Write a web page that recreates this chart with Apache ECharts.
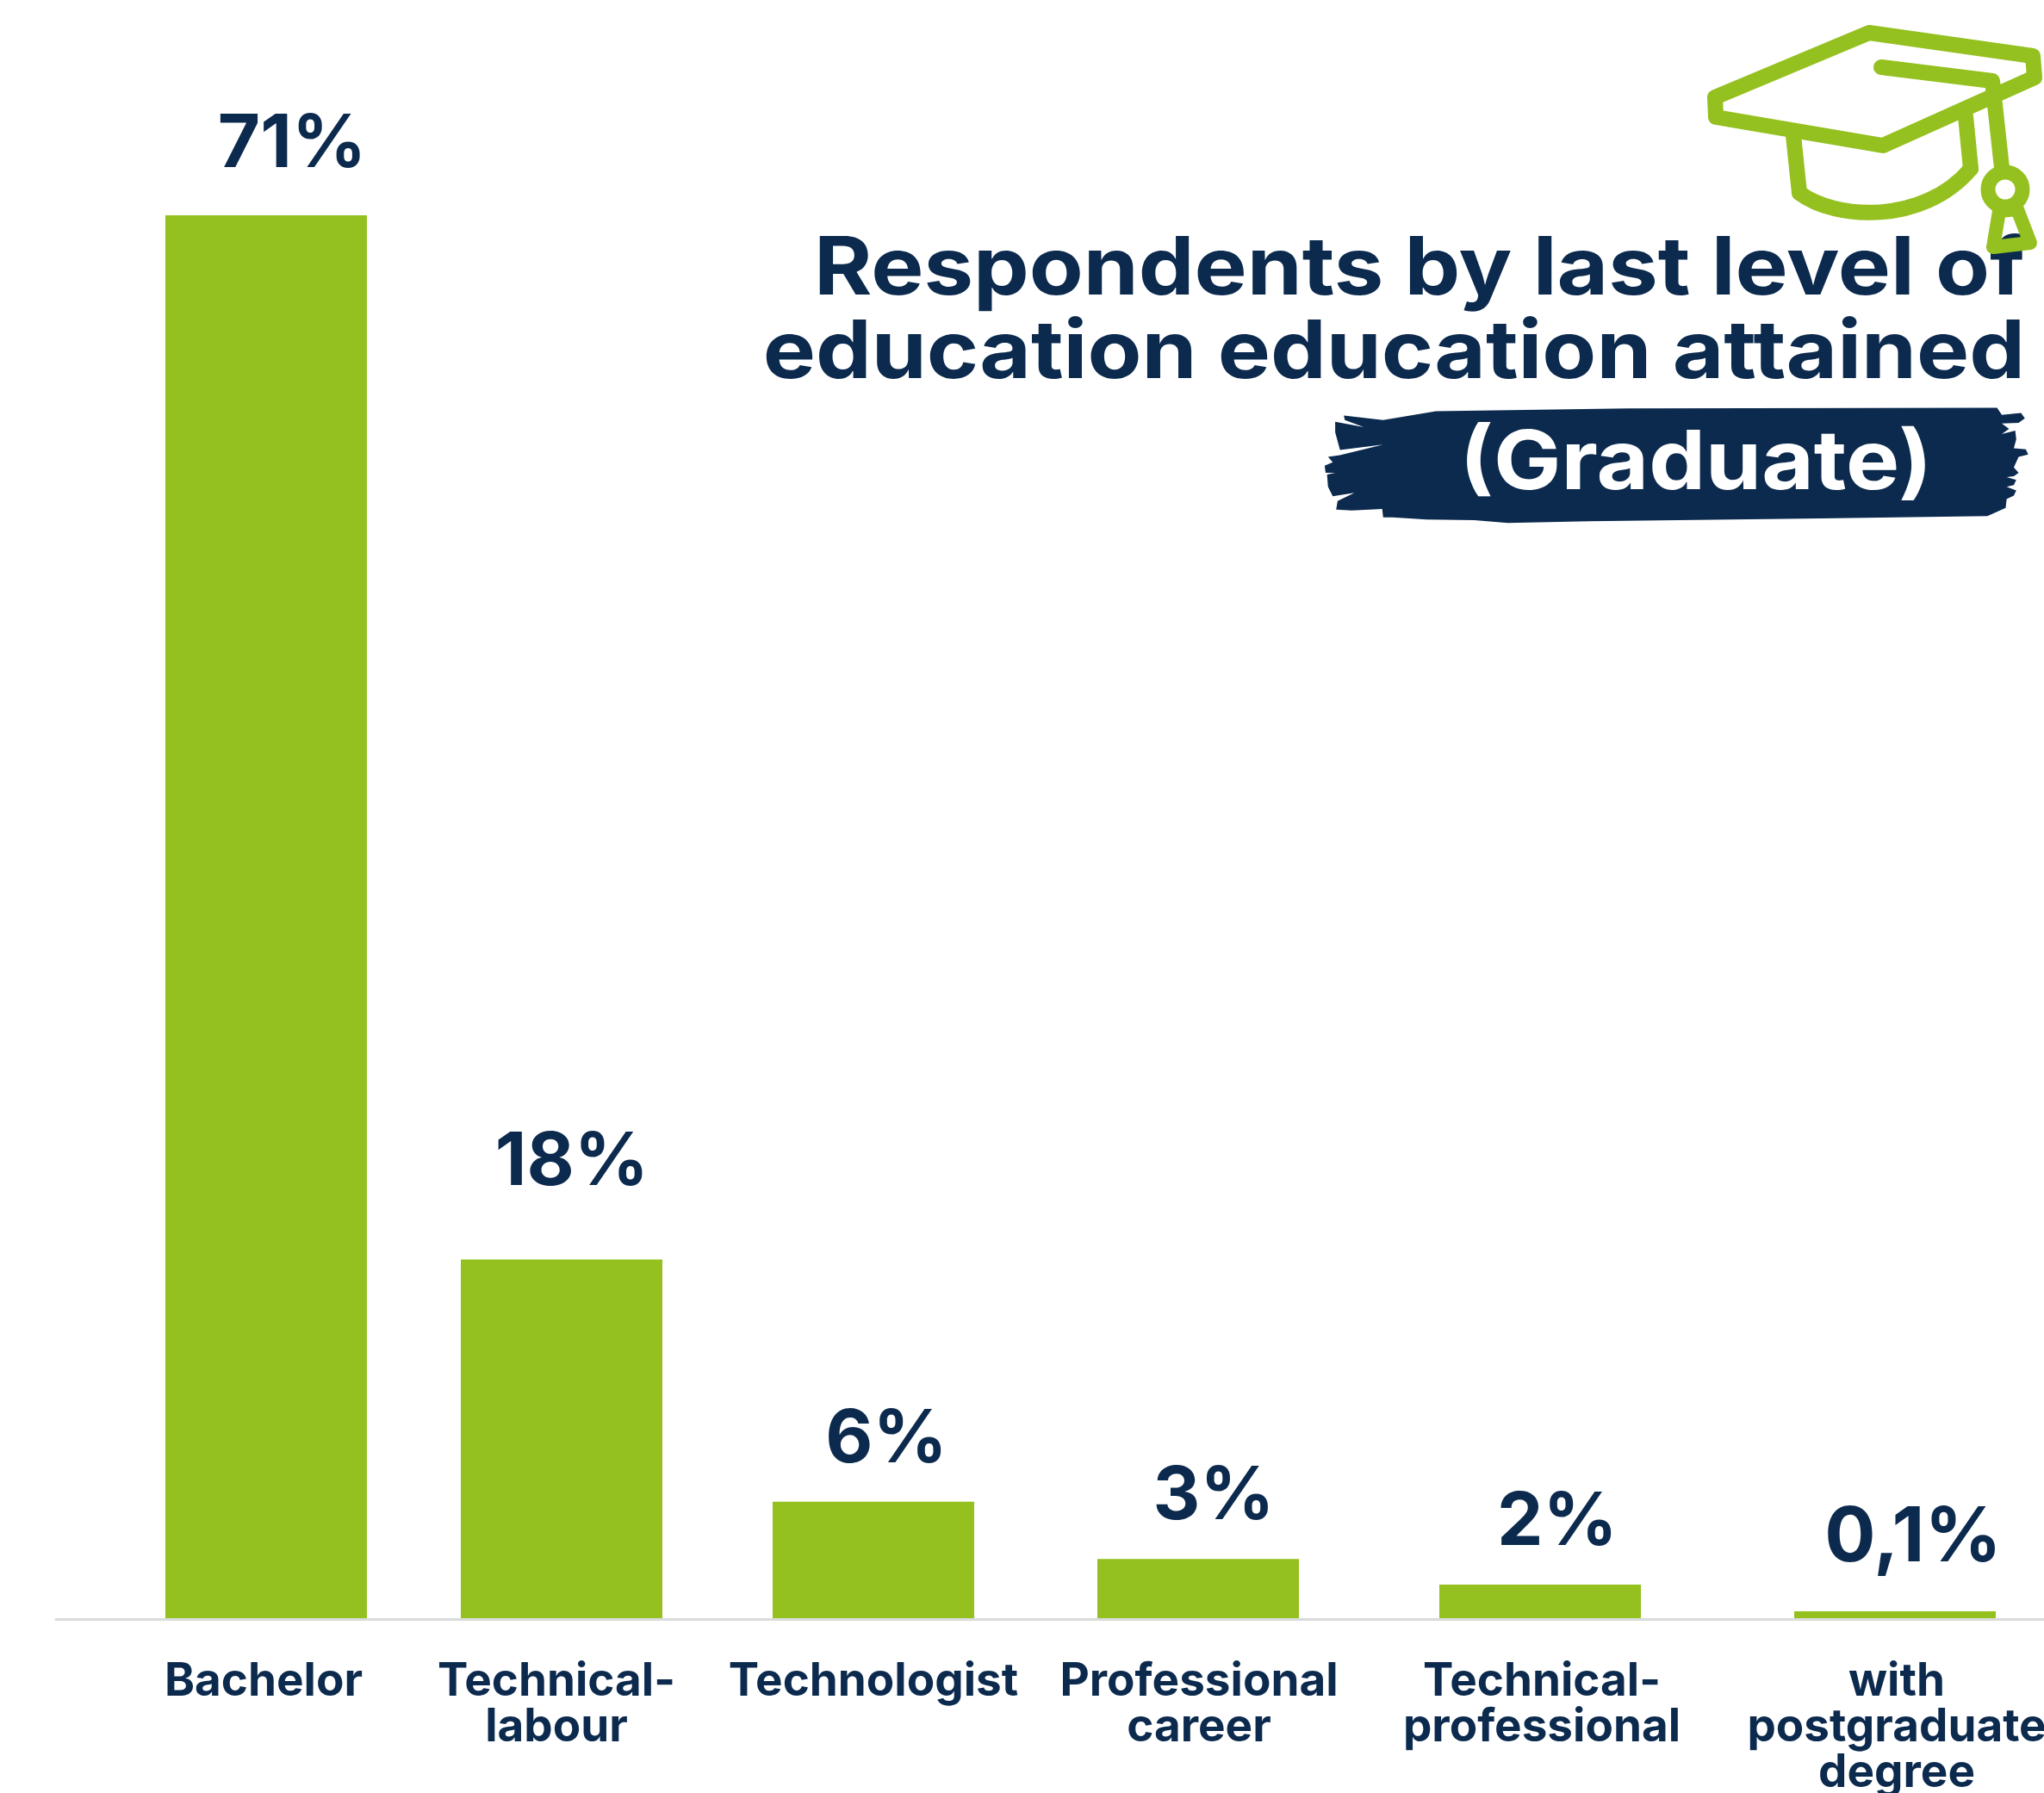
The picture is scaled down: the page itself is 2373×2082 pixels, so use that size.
<!DOCTYPE html>
<html><head><meta charset="utf-8">
<style>html,body{margin:0;padding:0;background:#fff}#c{width:2373px;height:2082px}</style>
<script src="https://cdn.jsdelivr.net/npm/echarts@6/dist/echarts.min.js"></script>
</head><body><div id="c"></div>
<script>
// data
const categories = ['Bachelor','Technical-\nlabour','Technologist','Professional\ncareer','Technical-\nprofessional','with\npostgraduate\ndegree'];
const barHeights = [71, 18.15, 5.9, 3, 1.7, 0.35];
const valueLabels = ['71%','18%','6%','3%','2%','0,1%'];
const titleLines = ['Respondents by last level of','education education attained'];
const badgeText = '(Graduate)';

// layout (page-like units on the x value axis)
const barCentres = [309,652,1014,1391,1788,2200];
const labelCentres = [306,646,1014,1392,1790,2202];
const valueLabelShift = [[30,-5],[12,-36],[15,5],[18,5],[20,5],[21,-6]];

const NAVY='#0c2a4e', GREEN='#94c11f', FONT='Inter';
const chart = echarts.init(document.getElementById('c'),null,{renderer:'canvas',width:2373,height:2082});

const fromCrop = p => [1500+p[0]/1.796, p[1]/2.45];
const brush = [[108,1182],[190,1195],[300,1170],[700,1162],[1470,1160],[1480,1180],[1520,1175],[1528,1190],[1515,1203],[1480,1205],[1495,1220],[1480,1235],[1508,1225],[1510,1250],[1505,1275],[1530,1278],[1535,1293],[1515,1300],[1505,1330],[1515,1345],[1505,1355],[1490,1357],[1510,1365],[1505,1380],[1490,1385],[1510,1395],[1505,1410],[1490,1420],[1488,1445],[1450,1468],[1100,1475],[620,1483],[450,1488],[380,1480],[280,1478],[210,1472],[190,1472],[188,1448],[125,1452],[92,1450],[95,1425],[130,1402],[85,1412],[75,1385],[73,1350],[90,1345],[70,1345],[68,1325],[85,1315],[75,1300],[100,1295],[190,1265],[100,1280],[90,1230],[90,1200],[150,1215],[110,1195]].map(fromCrop);
const capStroke = {stroke:GREEN,fill:'none',lineWidth:18,lineJoin:'round',lineCap:'round'};
const headText = (t,x,y,align,fill,size,sx) => ({type:'text',z:11,x,y,scaleX:sx,style:{x:0,y:0,text:t,textAlign:align,textVerticalAlign:'top',fill,font:`700 ${size}px ${FONT}`}});

chart.setOption({
  animation:false,
  backgroundColor:'#fff',
  grid:{left:65,right:0,top:43.5,height:1835.5,containLabel:false,outerBoundsMode:'none'},
  xAxis:{type:'value',min:65,max:2373,offset:1,splitLine:{show:false},axisTick:{show:false},
    axisLine:{show:true,onZero:false,lineStyle:{color:'#d9dcdc',width:3}},
    axisLabel:{show:true,customValues:labelCentres,margin:47,color:NAVY,fontFamily:FONT,fontWeight:700,fontSize:53,lineHeight:53,verticalAlign:'top',align:'center',hideOverlap:false,showMinLabel:true,showMaxLabel:true,
      formatter:v=>categories[labelCentres.indexOf(v)]||''}},
  yAxis:{type:'value',min:0,max:80,show:false},
  series:[{type:'bar',barWidth:234,itemStyle:{color:GREEN},
    data:barHeights.map((h,i)=>({value:[barCentres[i],h],
      label:{show:true,position:'top',distance:34,offset:valueLabelShift[i],formatter:valueLabels[i],color:NAVY,fontFamily:FONT,fontWeight:700,fontSize:i===5?88:85}}))}],
  graphic:[
    {type:'polygon',z:10,shape:{points:brush},style:{fill:NAVY}},
    headText(titleLines[0],2351,268,'right',NAVY,93,1.105),
    headText(titleLines[1],2351,365,'right',NAVY,93,1.105),
    headText(badgeText,1969,492,'center','#fff',95,1.10),
    {type:'polygon',z:12,shape:{points:[[1991,113],[2170,38],[2360,65],[2362,90],[2186,169],[1992,136]]},style:capStroke},
    {type:'polyline',z:12,shape:{points:[[2184,78],[2313,94],[2324,195]]},style:capStroke},
    {type:'polyline',z:12,shape:{points:[[2082,157],[2089,224]]},style:capStroke},
    {type:'bezierCurve',z:12,shape:{x1:2089,y1:224,x2:2288,y2:196,cpx1:2130,cpy1:255,cpx2:2232,cpy2:262},style:capStroke},
    {type:'polyline',z:12,shape:{points:[[2288,196],[2282,135]]},style:capStroke},
    {type:'circle',z:12,shape:{cx:2328,cy:220,r:20},style:{stroke:GREEN,fill:'#fff',lineWidth:17}},
    {type:'polygon',z:12,shape:{points:[[2321,245],[2342,243],[2357,282],[2314,287]]},style:{stroke:GREEN,fill:'none',lineWidth:16,lineJoin:'round'}}
  ]
});
</script></body></html>
